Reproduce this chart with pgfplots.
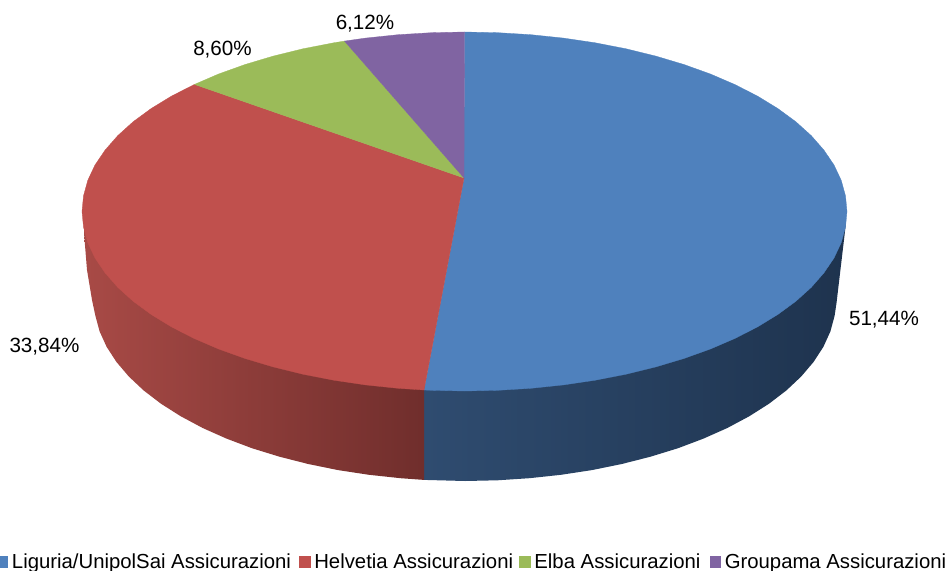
\documentclass[border=0pt]{standalone}
\usepackage{pgfplots}
\pgfplotsset{compat=1.18}
\usepackage{fontspec}
\setmainfont{Liberation Sans}

\definecolor{pieblue}{RGB}{79,129,189}
\definecolor{piered}{RGB}{192,80,77}
\definecolor{piegreen}{RGB}{155,187,89}
\definecolor{piepurple}{RGB}{128,100,162}
\definecolor{bluesideA}{RGB}{47,76,112}
\definecolor{bluesideB}{RGB}{31,51,78}
\definecolor{bluesideC}{RGB}{30,51,78}
\definecolor{redsideA}{RGB}{168,74,70}
\definecolor{redsideB}{RGB}{146,63,60}
\definecolor{redsideC}{RGB}{112,46,44}

\begin{document}
\begin{tikzpicture}
    \begin{axis}[%
            scale only axis,
            width=948bp,
            height=571bp,
            xmin=0, xmax=948,
            ymin=0, ymax=571,
            y dir=reverse,
            axis line style={draw=none},
            xtick=\empty,
            ytick=\empty,
            legend columns=4,
            area legend,
            legend image code/.code={\fill[#1] (0bp,-5.3bp) rectangle (10.5bp,5.3bp);},
            legend style={
                at={(axis cs:0,570)},
                anchor=south west,
                draw=none,
                fill=none,
                inner sep=0pt,
                font=\fontsize{20.4}{24}\selectfont,
                nodes={inner sep=0pt},
                /tikz/column 1/.style={column sep=4.5bp},
                /tikz/column 2/.style={column sep=8bp},
                /tikz/column 3/.style={column sep=4.5bp},
                /tikz/column 4/.style={column sep=6bp},
                /tikz/column 5/.style={column sep=4.5bp},
                /tikz/column 6/.style={column sep=9.5bp},
                /tikz/column 7/.style={column sep=4bp},
            },
        ]
        % side walls, the top faces cover their upper edge
        \addplot[forget plot, draw=none, left color=bluesideA, middle color=bluesideB, right color=bluesideC] coordinates {
            (424,385) (845.5,215) (845.5,227) (836.5,303) (834.6,315.8) (830.4,331.4) (823.4,346.8)
            (813.6,361.9) (801.2,376.5) (786.3,390.5) (768.9,403.8) (749.2,416.3) (727.3,428)
            (703.5,438.6) (677.8,448.3) (650.5,456.7) (621.8,464) (591.9,470.1) (561,474.8)
            (529.4,478.2) (497.4,480.3) (465,481) (424,479.9) (424,385)
        };
        \addplot[forget plot, draw=none, left color=redsideA, middle color=redsideB, right color=redsideC] coordinates {
            (424,385) (84,220) (84,233) (87,270) (92,300) (95.4,315.8) (99.6,331.4) (106.6,346.8)
            (116.4,361.9) (128.8,376.5) (143.7,390.5) (161.1,403.8) (180.8,416.3) (202.7,428)
            (226.5,438.6) (252.2,448.3) (279.5,456.7) (308.2,464) (338.1,470.1) (369,474.8)
            (400.6,478.2) (424,479.9) (424,385)
        };

        % top faces
        \addplot[fill=pieblue, draw=pieblue, line width=0.3pt,
            legend image code/.code={\fill[pieblue] (0bp,-5.3bp) rectangle (7bp,5.3bp);}] coordinates {
            (464,178) (464.5,32) (497.9,32.7) (530.9,34.7) (563.5,38.1) (595.3,42.8) (626.1,48.8)
            (655.8,56.1) (683.9,64.5) (710.4,74) (735,84.6) (757.5,96.1) (777.8,108.5) (795.8,121.7)
            (811.2,135.6) (823.9,150.1) (834,165) (841.2,180.3) (845.5,195.9) (847,211.5)
            (845.5,227.1) (841.2,242.7) (834,258) (823.9,272.9) (811.2,287.4) (795.8,301.3)
            (777.8,314.5) (757.5,326.9) (735,338.4) (710.4,349) (683.9,358.5) (655.8,366.9)
            (626.1,374.2) (595.3,380.2) (563.5,384.9) (530.9,388.3) (497.9,390.3) (464.5,391)
            (431.1,390.3) (424,390) (464,178)
        };
        \addlegendentry{Liguria/UnipolSai Assicurazioni}
        \addplot[fill=piered, draw=piered, line width=0.3pt] coordinates {
            (464,178) (424,390) (398.1,388.3) (365.5,384.9) (333.7,380.2) (302.9,374.2) (273.2,366.9)
            (245.1,358.5) (218.6,349) (194,338.4) (171.5,326.9) (151.2,314.5) (133.2,301.3)
            (117.8,287.4) (105.1,272.9) (95,258) (87.8,242.7) (83.5,227.1) (82,211.5) (83.5,195.9)
            (87.8,180.3) (95,165) (105.1,150.1) (117.8,135.6) (133.2,121.7) (151.2,108.5)
            (171.5,96.1) (194.5,84.4) (464,178)
        };
        \addlegendentry{Helvetia Assicurazioni}
        \addplot[fill=piegreen, draw=piegreen, line width=0.3pt] coordinates {
            (464,178) (194.5,84.4) (218.6,74) (245.1,64.5) (273.2,56.1) (302.9,48.8) (333.7,42.8)
            (344.5,41.1) (464,178)
        };
        \addlegendentry{Elba Assicurazioni}
        \addplot[fill=piepurple, draw=piepurple, line width=0.3pt] coordinates {
            (464,178) (344.5,41.1) (365.5,38.1) (398.1,34.7) (431.1,32.7) (464.5,32) (464,178)
        };
        \addlegendentry{Groupama Assicurazioni}

        \node[font=\fontsize{20.7}{24}\selectfont, inner sep=0pt] at (axis cs:884,320) {51,44\%};
        \node[font=\fontsize{20.7}{24}\selectfont, inner sep=0pt] at (axis cs:44.5,346.5) {33,84\%};
        \node[font=\fontsize{20.7}{24}\selectfont, inner sep=0pt] at (axis cs:222.5,50) {8,60\%};
        \node[font=\fontsize{20.7}{24}\selectfont, inner sep=0pt] at (axis cs:365,24) {6,12\%};
    \end{axis}
\end{tikzpicture}
\end{document}
